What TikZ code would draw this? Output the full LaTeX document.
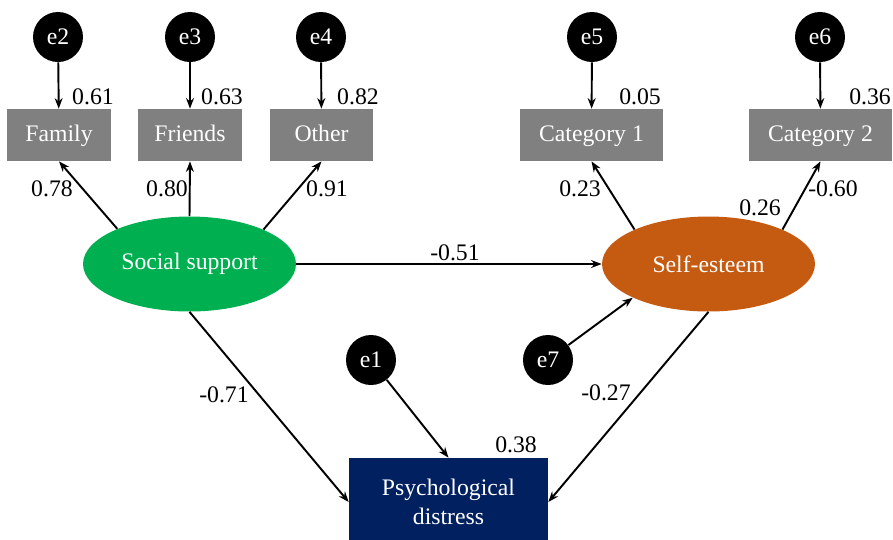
\documentclass[tikz,border=0pt]{standalone}
\usepackage{fontspec}
\setmainfont{Liberation Serif}
\usetikzlibrary{shapes.geometric,arrows.meta}
\definecolor{boxgray}{HTML}{808080}
\definecolor{ssgreen}{HTML}{00B050}
\definecolor{seorange}{HTML}{C55A11}
\definecolor{navy}{HTML}{002060}
\tikzset{
  txt/.style={font=\rmfamily\fontsize{13.5}{16.5}\selectfont},
  obs/.style={txt, rectangle, fill=boxgray, text=white, minimum height=1.04cm, inner sep=0pt, text height=0.75em, text depth=0pt},
  err/.style={txt, circle, fill=black, text=white, minimum size=1cm, inner sep=0pt},
  lat/.style={txt, ellipse, text=white, minimum width=4.26cm, minimum height=1.9cm, inner sep=0pt},
  val/.style={txt, inner sep=0pt, anchor=center},
  path/.style={-{Stealth[length=6pt,width=4.5pt]}, line width=1.1pt, black}
}
\begin{document}
\begin{tikzpicture}[x=0.02cm,y=-0.02cm]
\useasboundingbox (0,0) rectangle (893,539);
% error terms
\node[err] (e2) at (58,37) {e2};
\node[err] (e3) at (190,37) {e3};
\node[err] (e4) at (321,37) {e4};
\node[err] (e5) at (592,37) {e5};
\node[err] (e6) at (820,37) {e6};
\node[err] (e1) at (371,360) {e1};
\node[err] (e7) at (548,360) {e7};
% observed
\node[obs, minimum width=2.08cm] (fam) at (59,135) {Family};
\node[obs, minimum width=2.08cm] (fri) at (190,135) {Friends};
\node[obs, minimum width=2.06cm] (oth) at (321.5,135) {Other};
\node[obs, minimum width=2.86cm] (c1) at (591.5,135) {Category 1};
\node[obs, minimum width=2.86cm] (c2) at (820.5,135) {Category 2};
% latent
\node[lat, fill=ssgreen] (ss) at (189.5,264) {Social support};
\node[lat, fill=seorange] (se) at (708.5,264) {Self-esteem};
% outcome
\node[txt, rectangle, fill=navy, text=white, minimum width=3.98cm, minimum height=1.76cm, align=center, inner sep=0pt] (pd) at (448.5,502) {Psychological\\distress};
% connectors
\draw[path] (e2) -- (fam);
\draw[path] (e3) -- (fri);
\draw[path] (e4) -- (oth);
\draw[path] (e5) -- (c1);
\draw[path] (e6) -- (c2);
\draw[path] (ss.154.7) -- (fam.south);
\draw[path] (ss.north) -- (fri.south);
\draw[path] (ss.25.3) -- (oth.south);
\draw[path] (se.155) -- (c1.south);
\draw[path] (se.25.6) -- (c2.south);
\draw[path] (ss.east) -- (se.west);
\draw[path] (ss.south) -- (pd.west);
\draw[path] (se.south) -- (pd.east);
\draw[path] (e1) -- (pd.north);
\draw[path] (e7) -- (se.204);
% values
\node[val] (v61) at (93,97) {0.61};
\node[val] (v63) at (222,97) {0.63};
\node[val] (v82) at (358,97) {0.82};
\node[val] (v05) at (640,97) {0.05};
\node[val] (v36) at (870,97) {0.36};
\node[val] (v78) at (52,189) {0.78};
\node[val] (v80) at (167,189) {0.80};
\node[val] (v91) at (327,189) {0.91};
\node[val] (v23) at (580,189) {0.23};
\node[val] (v60) at (833,189) {-0.60};
\node[val] (v26) at (760,208) {0.26};
\node[val] (v51) at (455,253) {-0.51};
\node[val] (v71) at (224,395) {-0.71};
\node[val] (v27) at (606,393) {-0.27};
\node[val] (v38) at (516,445) {0.38};
\end{tikzpicture}
\end{document}
